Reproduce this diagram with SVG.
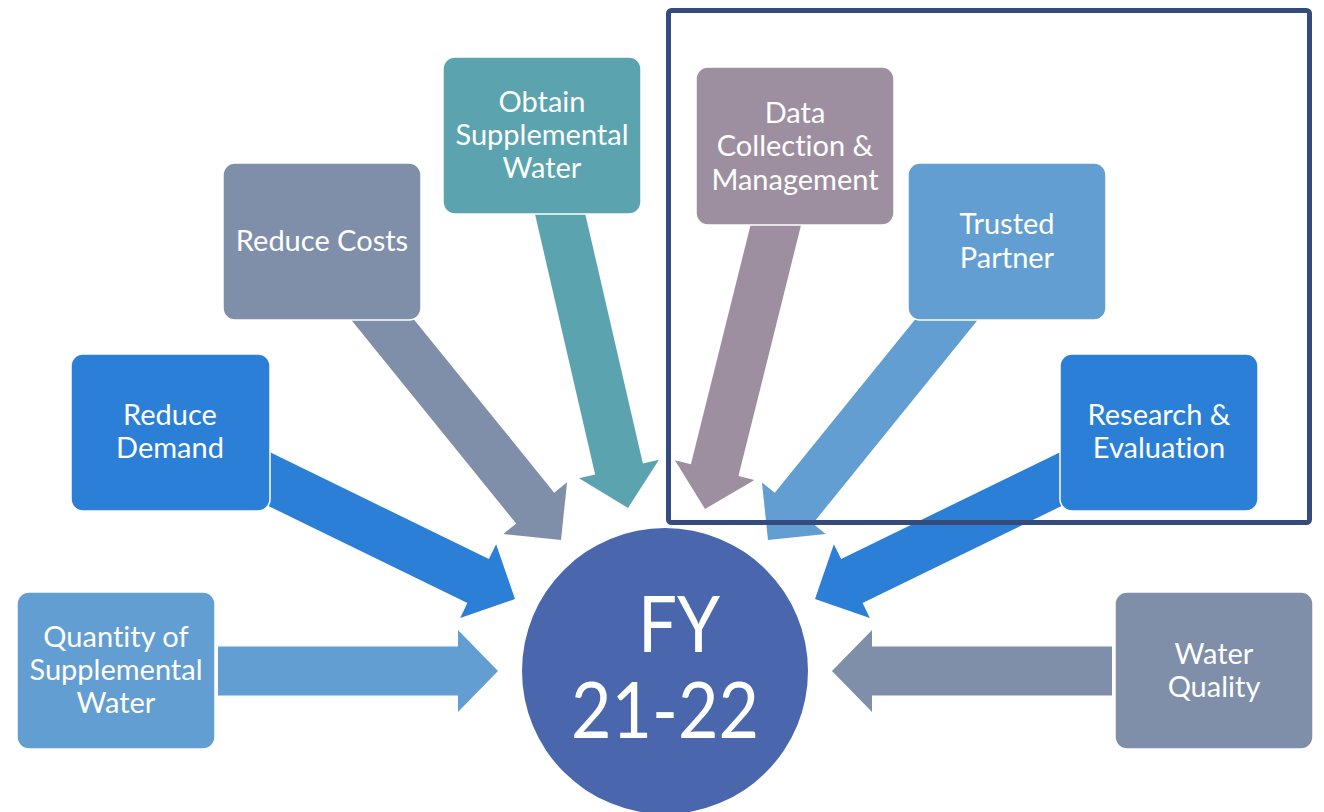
<svg xmlns="http://www.w3.org/2000/svg" width="1324" height="812" viewBox="0 0 1324 812">
<style>
.box{stroke:#fff;stroke-width:1.5}
.lbl{font-family:Lato,"Open Sans","Liberation Sans",sans-serif;font-size:29px;fill:#fff;text-anchor:middle;font-variant-ligatures:none}
.big{font-family:Lato,"Open Sans","Liberation Sans",sans-serif;font-size:78px;fill:#fff;text-anchor:middle;font-variant-ligatures:none}
.c1{fill:#629ED1}.c2{fill:#2B7FD6}.c3{fill:#7F8FA9}.c4{fill:#5BA3AF}.c5{fill:#9D8FA0}
</style>
<rect width="1324" height="812" fill="#fff"/>
<g id="connectors">
<polygon class="c1" transform="translate(498,671)" points="-280,-24.5 -40,-24.5 -40,-41 0,0 -40,41 -40,24.5 -280,24.5"/>
<polygon class="c3" transform="translate(832,671) rotate(180)" points="-280,-24.5 -40,-24.5 -40,-41 0,0 -40,41 -40,24.5 -280,24.5"/>
<polygon class="c2" transform="translate(515,599) rotate(26)" points="-285,-24.5 -41,-24.5 -41,-41 0,0 -41,41 -41,24.5 -285,24.5"/>
<polygon class="c2" transform="translate(815,599) rotate(154)" points="-295,-24.5 -41,-24.5 -41,-41 0,0 -41,41 -41,24.5 -295,24.5"/>
<polygon class="c3" transform="translate(561,540) rotate(51)" points="-310,-24.5 -41,-24.5 -41,-41 0,0 -41,41 -41,24.5 -310,24.5"/>
<polygon class="c1" transform="translate(768,540) rotate(129)" points="-310,-24.5 -41,-24.5 -41,-41 0,0 -41,41 -41,24.5 -310,24.5"/>
<polygon class="c4" transform="translate(628,508) rotate(77)" points="-310,-24.5 -40,-24.5 -40,-41 0,0 -40,41 -40,24.5 -310,24.5"/>
<polygon class="c5" transform="translate(705,509) rotate(104)" points="-305,-24.5 -40,-24.5 -40,-41 0,0 -40,41 -40,24.5 -305,24.5"/>
</g>
<rect x="668.5" y="10.5" width="641" height="512" rx="3" fill="none" stroke="#344B7E" stroke-width="5"/>
<g id="center">
<circle cx="665" cy="671" r="143" fill="#4A67AE"/>
<text class="big" x="679" y="652" textLength="82" lengthAdjust="spacingAndGlyphs">FY</text>
<text class="big" x="665" y="738" textLength="188" lengthAdjust="spacingAndGlyphs">21-22</text>
</g>
<g id="quantity">
<rect class="box c1" x="17" y="592" width="198" height="157" rx="12"/>
<text class="lbl" x="116" y="647">Quantity of</text>
<text class="lbl" x="116" y="680">Supplemental</text>
<text class="lbl" x="116" y="713">Water</text>
</g>
<g id="reduce-demand">
<rect class="box c2" x="71" y="354" width="199" height="157" rx="12"/>
<text class="lbl" x="170" y="425">Reduce</text>
<text class="lbl" x="170" y="458">Demand</text>
</g>
<g id="reduce-costs">
<rect class="box c3" x="223" y="163" width="198" height="157" rx="12"/>
<text class="lbl" x="322" y="251">Reduce Costs</text>
</g>
<g id="obtain">
<rect class="box c4" x="443" y="57" width="198" height="157" rx="12"/>
<text class="lbl" x="542" y="112">Obtain</text>
<text class="lbl" x="542" y="145">Supplemental</text>
<text class="lbl" x="542" y="178">Water</text>
</g>
<g id="data">
<rect class="box c5" x="696" y="67" width="198" height="158" rx="12"/>
<text class="lbl" x="795" y="123">Data</text>
<text class="lbl" x="795" y="156">Collection &amp;</text>
<text class="lbl" x="795" y="190">Management</text>
</g>
<g id="trusted">
<rect class="box c1" x="908" y="163" width="198" height="157" rx="12"/>
<text class="lbl" x="1007" y="234">Trusted</text>
<text class="lbl" x="1007" y="268">Partner</text>
</g>
<g id="research">
<rect class="box c2" x="1060" y="354" width="198" height="157" rx="12"/>
<text class="lbl" x="1159" y="425">Research &amp;</text>
<text class="lbl" x="1159" y="458">Evaluation</text>
</g>
<g id="water-quality">
<rect class="box c3" x="1115" y="592" width="198" height="157" rx="12"/>
<text class="lbl" x="1214" y="664">Water</text>
<text class="lbl" x="1214" y="697">Quality</text>
</g>
</svg>
